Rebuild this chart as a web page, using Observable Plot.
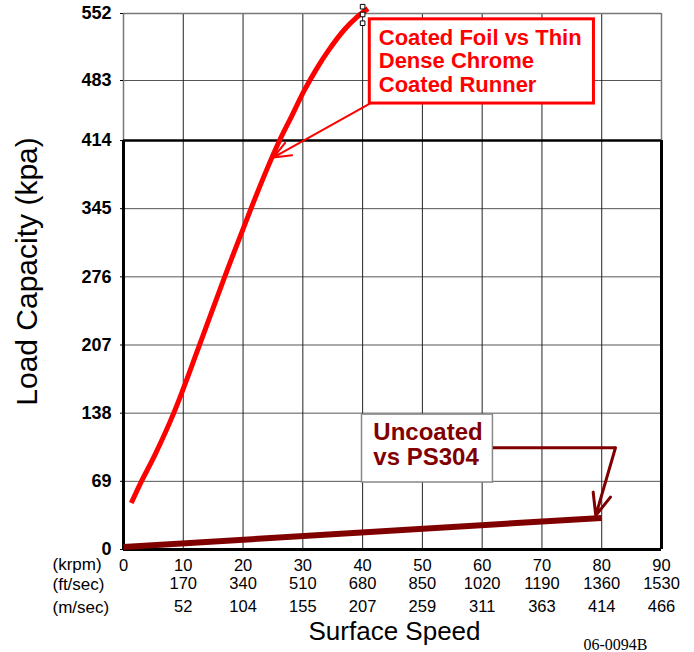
<!DOCTYPE html>
<html><head><meta charset="utf-8">
<script src="https://cdn.jsdelivr.net/npm/d3@7"></script>
<script src="https://cdn.jsdelivr.net/npm/@observablehq/plot@0.6"></script>
<style>body{margin:0;background:#fff}</style>
</head><body><div id="chart"></div>
<script>
// ---- data ----
const krpmTicks = [0, 10, 20, 30, 40, 50, 60, 70, 80, 90];
const ftSecLabels = ["", "170", "340", "510", "680", "850", "1020", "1190", "1360", "1530"];
const mSecLabels = ["", "52", "104", "155", "207", "259", "311", "363", "414", "466"];
const loadTicks = [0, 69, 138, 207, 276, 345, 414, 483, 552];

const coatedKrpm = [1.3, 3.0, 5.2, 8.4, 12.6, 16.8, 21.0, 24.0, 26.1, 28.2, 30.2, 32.3, 34.3, 36.9, 39.0, 40.9];
const coatedLoad = [47, 69, 95, 138, 205, 274, 340, 385, 414, 443, 471, 495, 514, 535, 548, 557];

const uncoatedKrpm = [0, 80];
const uncoatedLoad = [2.5, 32];

const handleKrpm = [40, 40, 40];
const handleLoad = [559, 551, 542];

const coatedLabel = "Coated Foil vs Thin\nDense Chrome\nCoated Runner";
const uncoatedLabel = "Uncoated\nvs PS304";

// ---- tables built from arrays ----
const coated = coatedKrpm.map((x, i) => ({x, y: coatedLoad[i]}));
const uncoated = uncoatedKrpm.map((x, i) => ({x, y: uncoatedLoad[i]}));
const handles = handleKrpm.map((x, i) => ({x, y: handleLoad[i]}));

const RED = "#ff0000", DARK = "#800000";
const sans = "Arial, 'Liberation Sans', Helvetica, sans-serif";

const chart = Plot.plot({
  width: 694,
  height: 652,
  marginLeft: 123,
  marginRight: 33,
  marginTop: 13,
  marginBottom: 103,
  style: {fontFamily: sans, background: "white", color: "black", overflow: "visible"},
  x: {domain: [0, 90], axis: null},
  y: {type: "linear", domain: [0, 414, 483, 552], range: [549, 140, 80, 13], axis: null},
  marks: [
    // grid
    Plot.ruleY([69, 138, 207, 276, 345, 483], {stroke: "#555", strokeWidth: 1}),
    Plot.ruleX([10, 20, 30, 40, 50, 60, 70, 80], {stroke: "#222", strokeWidth: 1}),
    // thin upper frame
    Plot.ruleY([552], {stroke: "#777", strokeWidth: 1.5}),
    Plot.ruleX([0, 90], {y1: 414, y2: 552, stroke: "#777", strokeWidth: 1.5}),
    // thick lower frame
    Plot.ruleY([414], {stroke: "black", strokeWidth: 2.5}),
    Plot.ruleY([0], {stroke: "black", strokeWidth: 3}),
    Plot.ruleX([0, 90], {y1: 0, y2: 414, stroke: "black", strokeWidth: 3}),
    // y axis
    Plot.axisY(loadTicks, {tickSize: 3, tickPadding: 9, fontSize: 18, fontWeight: "bold", label: null}),
    // series
    Plot.line(uncoated, {x: "x", y: "y", stroke: DARK, strokeWidth: 6, strokeLinecap: "butt"}),
    Plot.line(coated, {x: "x", y: "y", stroke: RED, strokeWidth: 5, curve: "catmull-rom", strokeLinecap: "butt"}),
    Plot.dot(handles, {x: "x", y: "y", symbol: "square", r: 2.6, stroke: "black", fill: "white", strokeWidth: 1}),
    // annotation: coated
    Plot.rect([{x1: 41.2, x2: 78.7, y1: 456.5, y2: 546}], {x1: "x1", x2: "x2", y1: "y1", y2: "y2", fill: "white", stroke: RED, strokeWidth: 3}),
    Plot.text([coatedLabel], {x: 42.7, y: 537.6, text: d => d, textAnchor: "start", lineAnchor: "top", lineHeight: 1.09, fontSize: 22, fontWeight: "bold", fill: RED}),
    Plot.arrow([{x1: 41.2, y1: 456.5, x2: 25.1, y2: 396.8}], {x1: "x1", y1: "y1", x2: "x2", y2: "y2", stroke: RED, strokeWidth: 2, headLength: 14, headAngle: 45}),
    // annotation: uncoated
    Plot.rect([{x1: 39.9, x2: 61.8, y1: 67.8, y2: 136.6}], {x1: "x1", x2: "x2", y1: "y1", y2: "y2", fill: "white", stroke: "#888", strokeWidth: 1.5}),
    Plot.text([uncoatedLabel], {x: 41.8, y: 128.5, text: d => d, textAnchor: "start", lineAnchor: "top", lineHeight: 1.04, fontSize: 24, fontWeight: "bold", fill: DARK}),
    Plot.line([{x: 61.8, y: 103}, {x: 82.3, y: 103}], {x: "x", y: "y", stroke: DARK, strokeWidth: 3, strokeLinecap: "butt"}),
    Plot.arrow([{x1: 82.3, y1: 103, x2: 79.0, y2: 34.4}], {x1: "x1", y1: "y1", x2: "x2", y2: "y2", stroke: DARK, strokeWidth: 3, headLength: 15, headAngle: 45}),
    // x axis rows
    Plot.text(krpmTicks, {x: d => d, frameAnchor: "bottom", lineAnchor: "middle", dy: 16, text: d => String(d), fontSize: 16.5}),
    Plot.text(krpmTicks, {x: d => d, frameAnchor: "bottom", lineAnchor: "middle", dy: 34, text: (d, i) => ftSecLabels[i], fontSize: 16.5}),
    Plot.text(krpmTicks, {x: d => d, frameAnchor: "bottom", lineAnchor: "middle", dy: 57, text: (d, i) => mSecLabels[i], fontSize: 16.5}),
    Plot.text(["(krpm)"], {frameAnchor: "bottom-left", lineAnchor: "middle", dx: -71, dy: 15.5, textAnchor: "start", fontSize: 17}),
    Plot.text(["(ft/sec)"], {frameAnchor: "bottom-left", lineAnchor: "middle", dx: -71, dy: 35.5, textAnchor: "start", fontSize: 17}),
    Plot.text(["(m/sec)"], {frameAnchor: "bottom-left", lineAnchor: "middle", dx: -71, dy: 58, textAnchor: "start", fontSize: 17}),
    // axis titles
    Plot.text(["Surface Speed"], {frameAnchor: "bottom", lineAnchor: "middle", textAnchor: "middle", dx: 2, dy: 82, fontSize: 26}),
    Plot.text(["Load Capacity (kpa)"], {frameAnchor: "left", lineAnchor: "middle", textAnchor: "middle", rotate: -90, dx: -96, dy: -10, fontSize: 30}),
    Plot.text(["06-0094B"], {frameAnchor: "bottom-left", lineAnchor: "middle", dx: 460, dy: 95, textAnchor: "start", fontSize: 16, fontFamily: "'Liberation Serif', 'Times New Roman', serif"})
  ]
});
document.getElementById("chart").appendChild(chart);
</script>
</body></html>
